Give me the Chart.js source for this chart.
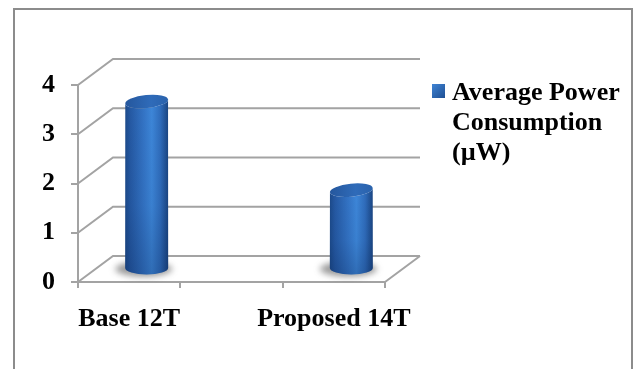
<!DOCTYPE html>
<html>
<head>
<meta charset="utf-8">
<script src="https://cdn.jsdelivr.net/npm/chart.js@4.4.0/dist/chart.umd.min.js"></script>
<style>
  html, body { margin: 0; padding: 0; background: #fff; }
  canvas { display: block; }
</style>
</head>
<body>
<canvas id="chart" width="635" height="369"></canvas>
<script>
// Categories and measured values (the middle slot is an empty spacer category)
const categories = ['Base 12T', '', 'Proposed 14T'];
const powerValues = [3.4, null, 1.6];
const seriesLabel = 'Average Power Consumption (µW)';
const yTickMin = 0;
const yTickMax = 4;
const yTickStep = 1;

const FONT = "'Liberation Serif', 'Times New Roman', serif";
const GRID = '#a3a3a3';
const DEPTH_X = 35;   // horizontal depth of the 3-D box
const DEPTH_Y = -26;  // vertical depth of the 3-D box

function wrapText(ctx, text, maxWidth) {
  const words = text.split(' ');
  const lines = [];
  let line = '';
  words.forEach(w => {
    const test = line ? line + ' ' + w : w;
    if (line && ctx.measureText(test).width > maxWidth) {
      lines.push(line);
      line = w;
    } else {
      line = test;
    }
  });
  if (line) lines.push(line);
  return lines;
}

const boxPlugin = {
  id: 'box3d',
  beforeDraw(chart) {
    const ctx = chart.ctx;
    ctx.save();
    ctx.fillStyle = '#fff';
    ctx.fillRect(0, 0, chart.width, chart.height);
    // outer chart frame
    ctx.strokeStyle = '#8c8c8c';
    ctx.lineWidth = 2;
    ctx.strokeRect(14, 9, 618, 420);
    ctx.restore();
  },
  beforeDatasetsDraw(chart) {
    const { ctx, scales: { x, y } } = chart;
    ctx.save();
    ctx.strokeStyle = GRID;
    ctx.lineWidth = 2;
    ctx.lineJoin = 'miter';
    ctx.beginPath();
    // side wall diagonals and back wall gridlines
    y.ticks.forEach(t => {
      const py = y.getPixelForValue(t.value);
      ctx.moveTo(x.left, py);
      ctx.lineTo(x.left + DEPTH_X, py + DEPTH_Y);
      ctx.lineTo(x.right + DEPTH_X, py + DEPTH_Y);
    });
    // floor right edge
    const base = y.getPixelForValue(0);
    ctx.moveTo(x.right, base);
    ctx.lineTo(x.right + DEPTH_X, base + DEPTH_Y);
    ctx.stroke();
    ctx.restore();
  },
  afterDatasetsDraw(chart) {
    const ctx = chart.ctx;
    const meta = chart.getDatasetMeta(0);
    const tilt = -0.1;
    meta.data.forEach((bar, i) => {
      const v = chart.data.datasets[0].data[i];
      if (v === null || v === undefined) return;
      const cx = bar.x + DEPTH_X / 2;
      const rx = bar.width / 2;
      const ry = 6.5;
      const top = bar.y + DEPTH_Y / 2;
      const bottom = bar.base + DEPTH_Y / 2;

      // soft floor shadow
      ctx.save();
      ctx.filter = 'blur(3px)';
      ctx.fillStyle = 'rgba(70,70,70,0.55)';
      ctx.beginPath();
      ctx.ellipse(cx - 3, bottom + 1, rx + 7, ry + 1, 0, 0, Math.PI * 2);
      ctx.fill();
      ctx.restore();

      // cylinder body
      ctx.save();
      const lx = cx - rx * Math.cos(tilt), ly = top - rx * Math.sin(tilt);
      const body = new Path2D();
      body.moveTo(lx, ly);
      body.lineTo(cx - rx, bottom);
      body.ellipse(cx, bottom, rx, ry, 0, Math.PI, 0, true);
      body.lineTo(cx + rx * Math.cos(tilt), top + rx * Math.sin(tilt));
      body.ellipse(cx, top, rx, ry, tilt, 0, Math.PI, false);
      body.closePath();
      const g = ctx.createLinearGradient(cx - rx, 0, cx + rx, 0);
      g.addColorStop(0, '#1c4a8a');
      g.addColorStop(0.12, '#2559a3');
      g.addColorStop(0.42, '#3373c4');
      g.addColorStop(0.62, '#3d86d8');
      g.addColorStop(0.82, '#2f6cbb');
      g.addColorStop(1, '#1a4582');
      ctx.fillStyle = g;
      ctx.fill(body);
      const shade = ctx.createLinearGradient(0, top, 0, bottom + ry);
      shade.addColorStop(0, 'rgba(0,20,60,0)');
      shade.addColorStop(0.6, 'rgba(0,20,60,0.05)');
      shade.addColorStop(1, 'rgba(0,20,60,0.22)');
      ctx.fillStyle = shade;
      ctx.fill(body);

      // cylinder top
      const tg = ctx.createLinearGradient(cx - rx, 0, cx + rx, 0);
      tg.addColorStop(0, '#25579d');
      tg.addColorStop(0.6, '#2f6bb9');
      tg.addColorStop(1, '#2a62ac');
      ctx.fillStyle = tg;
      ctx.beginPath();
      ctx.ellipse(cx, top, rx, ry, tilt, 0, Math.PI * 2);
      ctx.fill();
      ctx.restore();
    });
  },
  afterDraw(chart) {
    const ctx = chart.ctx;
    const ds = chart.data.datasets[0];
    ctx.save();
    ctx.font = `bold 26px ${FONT}`;
    const lines = wrapText(ctx, ds.label, 185);
    const sq = ctx.createLinearGradient(432, 84, 445, 98);
    sq.addColorStop(0, '#3f84d4');
    sq.addColorStop(1, '#1f4f93');
    ctx.fillStyle = sq;
    ctx.fillRect(432, 84, 13, 14);
    ctx.fillStyle = '#000';
    ctx.textBaseline = 'alphabetic';
    ctx.textAlign = 'left';
    lines.forEach((ln, i) => ctx.fillText(ln, 452, 100 + i * 30));
    ctx.restore();
  }
};

const tickFont = { family: FONT, size: 26, weight: 'bold' };

new Chart(document.getElementById('chart'), {
  type: 'bar',
  data: {
    labels: categories,
    datasets: [{
      label: seriesLabel,
      data: powerValues,
      backgroundColor: 'rgba(0,0,0,0)',
      borderWidth: 0,
      categoryPercentage: 1,
      barPercentage: 0.42
    }]
  },
  options: {
    responsive: false,
    animation: false,
    devicePixelRatio: 1,
    layout: { padding: { top: 85, right: 250, bottom: 0, left: 0 } },
    plugins: {
      legend: { display: false },
      tooltip: { enabled: false }
    },
    scales: {
      x: {
        type: 'category',
        offset: true,
        grid: { offset: true, drawOnChartArea: false, drawTicks: true, tickLength: 6, color: GRID, lineWidth: 2 },
        border: { display: true, color: GRID, width: 2 },
        ticks: { font: tickFont, color: '#000', padding: 16, maxRotation: 0, autoSkip: false },
        afterFit(s) { s.height = 87; }
      },
      y: {
        min: yTickMin,
        max: yTickMax,
        grid: { drawOnChartArea: false, drawTicks: true, tickLength: 7, color: GRID, lineWidth: 2 },
        border: { display: true, color: GRID, width: 2 },
        ticks: { stepSize: yTickStep, font: tickFont, color: '#000', padding: 16 },
        afterFit(s) { s.width = 78; }
      }
    }
  },
  plugins: [boxPlugin]
});
</script>
</body>
</html>
